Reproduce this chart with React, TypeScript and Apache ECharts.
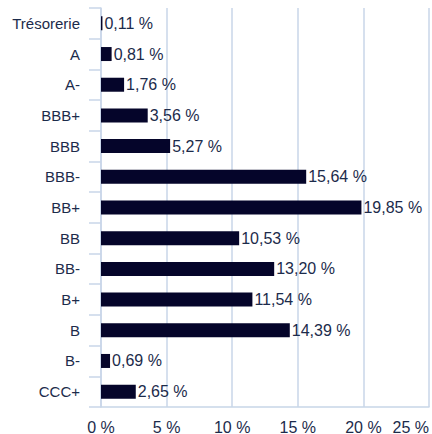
import React, { useEffect, useRef } from "react";
import * as echarts from "echarts";

const categories = ["Trésorerie", "A", "A-", "BBB+", "BBB", "BBB-", "BB+", "BB", "BB-", "B+", "B", "B-", "CCC+"];
const values = [0.11, 0.81, 1.76, 3.56, 5.27, 15.64, 19.85, 10.53, 13.2, 11.54, 14.39, 0.69, 2.65];

const fmt = (v: number) => v.toFixed(2).replace(".", ",") + " %";

export default function App() {
  const ref = useRef<HTMLDivElement>(null);
  useEffect(() => {
    if (!ref.current) return;
    const chart = echarts.init(ref.current, null, { renderer: "svg" });
    const textColor = "#1c2b4b";
    const lineColor = "#c8d6e8";
    const font = "Liberation Sans, Arial, sans-serif";
    chart.setOption({
      animation: false,
      grid: { left: 101, right: 3, top: 8, bottom: 27, containLabel: false, outerBoundsMode: "none" },
      xAxis: {
        type: "value",
        min: 0,
        max: 25,
        interval: 5,
        axisLine: { show: true, lineStyle: { color: lineColor, width: 1.5 } },
        axisTick: { show: false },
        splitLine: { show: true, lineStyle: { color: lineColor, width: 1.5 } },
        axisLabel: {
          formatter: (v: number) => v + " %",
          color: textColor,
          fontSize: 16,
          fontFamily: font,
          margin: 12,
          showMaxLabel: true,
          alignMaxLabel: "right",
        },
      },
      yAxis: {
        type: "category",
        data: categories,
        inverse: true,
        axisLine: { show: true, lineStyle: { color: lineColor, width: 1.5 } },
        axisTick: { show: true, length: 12, lineStyle: { color: lineColor, width: 1.5 } },
        axisLabel: {
          color: textColor,
          fontSize: 15,
          fontFamily: font,
          margin: 21,
        },
      },
      series: [
        {
          type: "bar",
          data: values,
          barWidth: 14,
          itemStyle: { color: "#05052a" },
          label: {
            show: true,
            position: "right",
            distance: 2,
            color: textColor,
            fontSize: 16,
            fontFamily: font,
            formatter: (p: any) => fmt(p.value),
          },
        },
      ],
    });
    return () => chart.dispose();
  }, []);
  return <div ref={ref} style={{ width: 432, height: 434, position: "absolute", left: 0, top: 0 }} />;
}
